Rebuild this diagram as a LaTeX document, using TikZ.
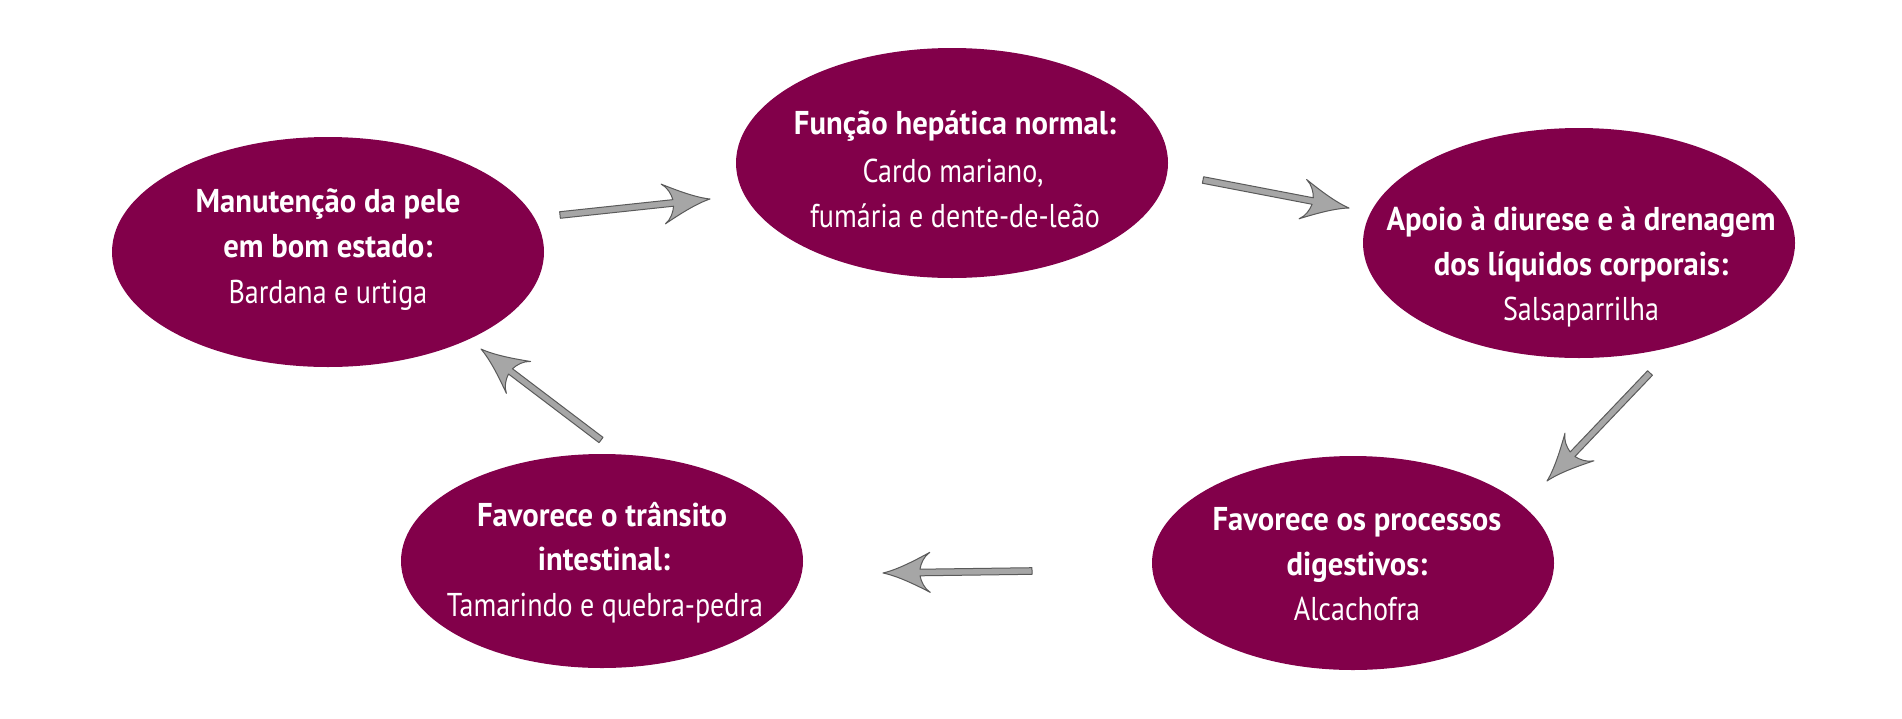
\documentclass[tikz,border=0pt]{standalone}
\usepackage{fontspec}
\usetikzlibrary{calc,shapes.geometric}
\newfontfamily\diagtitlefont{PT Sans}[FakeStretch=0.93]
\newfontfamily\diagbodyfont{PT Sans}[FakeStretch=0.85]
\definecolor{wine}{HTML}{82004A}
\definecolor{arrowfill}{HTML}{A6A6A6}
\definecolor{arrowline}{HTML}{5A5A5A}
\tikzset{
  bubble/.style={ellipse, fill=wine, draw=none, inner sep=0pt},
  bigbubble/.style={bubble, minimum width=432pt, minimum height=230pt},
  smallbubble/.style={bubble, minimum width=402pt, minimum height=214pt},
  titleline/.style={text=white, font=\diagtitlefont\bfseries\fontsize{33}{38}\selectfont, anchor=base, inner sep=0pt},
  bodyline/.style={text=white, font=\diagbodyfont\fontsize{33}{38}\selectfont, anchor=base, inner sep=0pt},
  fatarrowstyle/.style={fill=arrowfill, draw=arrowline, line width=1pt, line join=round},
}
\newcommand\fatarrow[2]{%
  \path[fatarrowstyle] let \p1=($(#2)-(#1)$), \n1={veclen(\x1,\y1)}, \n2={atan2(\y1,\x1)} in
    [shift={(#1)}, rotate=\n2]
    (0pt,-3.3pt) -- ({\n1-37pt},-3.3pt)
    .. controls ({\n1-38pt},-9pt) and ({\n1-41pt},-16pt) .. ({\n1-47pt},-20pt)
    .. controls ({\n1-32pt},-12pt) and ({\n1-14pt},-3pt) .. ({\n1+0pt},0pt)
    .. controls ({\n1-14pt},3pt) and ({\n1-32pt},12pt) .. ({\n1-47pt},20pt)
    .. controls ({\n1-41pt},16pt) and ({\n1-38pt},9pt) .. ({\n1-37pt},3.3pt)
    -- (0pt,3.3pt) -- cycle;
}
\begin{document}
\begin{tikzpicture}[x=1pt,y=-1pt]
  \useasboundingbox[fill=white] (0,0) rectangle (1902,718);

  % bubbles
  \node[bigbubble]   (skin)   at (328,252) {};
  \node[bigbubble]   (liver)  at (952,163) {};
  \node[bigbubble]   (diur)   at (1579,243) {};
  \node[smallbubble] (dig)    at (1353,563) {};
  \node[smallbubble] (trans)  at (602,561) {};

  % texts
  \node[titleline] (skin1) at (328,212) {Manutenção da pele};
  \node[titleline] (skin2) at (328,257) {em bom estado:};
  \node[bodyline]  (skin3) at (328,303) {Bardana e urtiga};

  \node[titleline] (liver1) at (955,134) {Função hepática normal:};
  \node[bodyline]  (liver2) at (953,182) {Cardo mariano,};
  \node[bodyline]  (liver3) at (955,227) {fumária e dente-de-leão};

  \node[titleline] (diur1) at (1581,230) {Apoio à diurese e à drenagem};
  \node[titleline] (diur2) at (1581,275) {dos líquidos corporais:};
  \node[bodyline]  (diur3) at (1581,320) {Salsaparrilha};

  \node[titleline] (dig1) at (1357,530) {Favorece os processos};
  \node[titleline] (dig2) at (1357,575) {digestivos:};
  \node[bodyline]  (dig3) at (1357,620) {Alcachofra};

  \node[titleline] (trans1) at (602,526) {Favorece o trânsito};
  \node[titleline] (trans2) at (604,570) {intestinal:};
  \node[bodyline]  (trans3) at (605,616) {Tamarindo e quebra-pedra};

  % connector end points
  \coordinate (a1s) at (560,215);  \coordinate (a1e) at (710,199);
  \coordinate (a2s) at (1203,180); \coordinate (a2e) at (1349,208);
  \coordinate (a3s) at (1650,373); \coordinate (a3e) at (1547,481);
  \coordinate (a4s) at (1032,571); \coordinate (a4e) at (883,573);
  \coordinate (a5s) at (601,440);  \coordinate (a5e) at (481,349);

  \fatarrow{a1s}{a1e}
  \fatarrow{a2s}{a2e}
  \fatarrow{a3s}{a3e}
  \fatarrow{a4s}{a4e}
  \fatarrow{a5s}{a5e}
\end{tikzpicture}
\end{document}
